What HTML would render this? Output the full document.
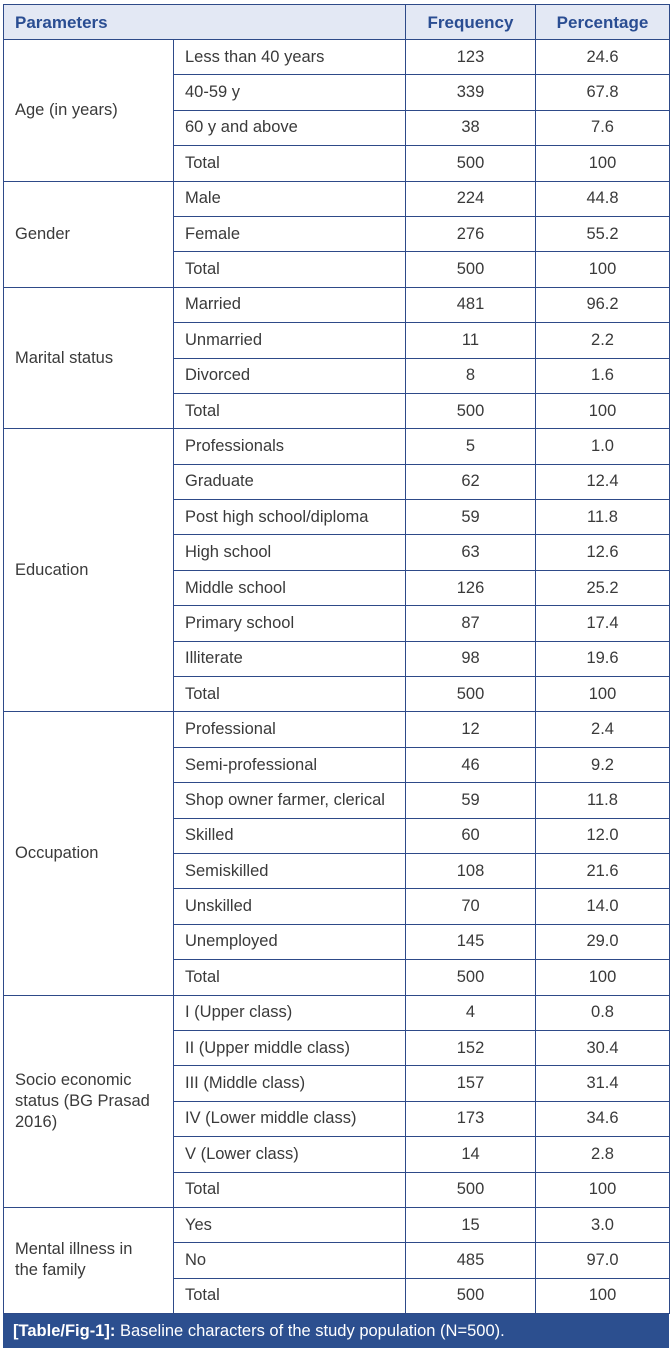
<!DOCTYPE html>
<html><head><meta charset="utf-8"><style>
body{margin:0;width:672px;height:1350px;background:#fff;position:relative;overflow:hidden;font-family:"Liberation Sans",Arial,sans-serif;}
table{position:absolute;left:3px;top:4px;width:666px;border-collapse:collapse;table-layout:fixed;font-size:16.5px;color:#3a3a3a;}
td,th{border:1px solid #2e4a88;padding:0 12px 0 11px;height:35.4px;line-height:21px;box-sizing:border-box;}
td.p{padding-right:8px;}
th{background:#e3e8f4;color:#2a4d92;font-weight:bold;text-align:left;height:35px;font-size:17px;}
th.c,td.c{text-align:center;padding:0;}
.cap{position:absolute;left:3px;top:1314px;width:666px;height:34px;background:#2c4f8f;color:#fff;font-size:16.5px;line-height:34px;padding-left:10px;box-sizing:border-box;}
</style></head><body>
<table>
<colgroup><col style="width:170px"><col style="width:232px"><col style="width:130px"><col style="width:134px"></colgroup>
<tr><th colspan="2">Parameters</th><th class="c">Frequency</th><th class="c">Percentage</th></tr>
<tr><td class="p" rowspan="4">Age (in years)</td><td>Less than 40 years</td><td class="c">123</td><td class="c">24.6</td></tr>
<tr><td>40-59 y</td><td class="c">339</td><td class="c">67.8</td></tr>
<tr><td>60 y and above</td><td class="c">38</td><td class="c">7.6</td></tr>
<tr><td>Total</td><td class="c">500</td><td class="c">100</td></tr>
<tr><td class="p" rowspan="3">Gender</td><td>Male</td><td class="c">224</td><td class="c">44.8</td></tr>
<tr><td>Female</td><td class="c">276</td><td class="c">55.2</td></tr>
<tr><td>Total</td><td class="c">500</td><td class="c">100</td></tr>
<tr><td class="p" rowspan="4">Marital status</td><td>Married</td><td class="c">481</td><td class="c">96.2</td></tr>
<tr><td>Unmarried</td><td class="c">11</td><td class="c">2.2</td></tr>
<tr><td>Divorced</td><td class="c">8</td><td class="c">1.6</td></tr>
<tr><td>Total</td><td class="c">500</td><td class="c">100</td></tr>
<tr><td class="p" rowspan="8">Education</td><td>Professionals</td><td class="c">5</td><td class="c">1.0</td></tr>
<tr><td>Graduate</td><td class="c">62</td><td class="c">12.4</td></tr>
<tr><td>Post high school/diploma</td><td class="c">59</td><td class="c">11.8</td></tr>
<tr><td>High school</td><td class="c">63</td><td class="c">12.6</td></tr>
<tr><td>Middle school</td><td class="c">126</td><td class="c">25.2</td></tr>
<tr><td>Primary school</td><td class="c">87</td><td class="c">17.4</td></tr>
<tr><td>Illiterate</td><td class="c">98</td><td class="c">19.6</td></tr>
<tr><td>Total</td><td class="c">500</td><td class="c">100</td></tr>
<tr><td class="p" rowspan="8">Occupation</td><td>Professional</td><td class="c">12</td><td class="c">2.4</td></tr>
<tr><td>Semi-professional</td><td class="c">46</td><td class="c">9.2</td></tr>
<tr><td>Shop owner farmer, clerical</td><td class="c">59</td><td class="c">11.8</td></tr>
<tr><td>Skilled</td><td class="c">60</td><td class="c">12.0</td></tr>
<tr><td>Semiskilled</td><td class="c">108</td><td class="c">21.6</td></tr>
<tr><td>Unskilled</td><td class="c">70</td><td class="c">14.0</td></tr>
<tr><td>Unemployed</td><td class="c">145</td><td class="c">29.0</td></tr>
<tr><td>Total</td><td class="c">500</td><td class="c">100</td></tr>
<tr><td class="p" rowspan="6">Socio economic<br>status (BG Prasad<br>2016)</td><td>I (Upper class)</td><td class="c">4</td><td class="c">0.8</td></tr>
<tr><td>II (Upper middle class)</td><td class="c">152</td><td class="c">30.4</td></tr>
<tr><td>III (Middle class)</td><td class="c">157</td><td class="c">31.4</td></tr>
<tr><td>IV (Lower middle class)</td><td class="c">173</td><td class="c">34.6</td></tr>
<tr><td>V (Lower class)</td><td class="c">14</td><td class="c">2.8</td></tr>
<tr><td>Total</td><td class="c">500</td><td class="c">100</td></tr>
<tr><td class="p" rowspan="3">Mental illness in<br>the family</td><td>Yes</td><td class="c">15</td><td class="c">3.0</td></tr>
<tr><td>No</td><td class="c">485</td><td class="c">97.0</td></tr>
<tr><td>Total</td><td class="c">500</td><td class="c">100</td></tr>
</table>
<div class="cap"><b>[Table/Fig-1]:</b> Baseline characters of the study population (N=500).</div>
</body></html>
